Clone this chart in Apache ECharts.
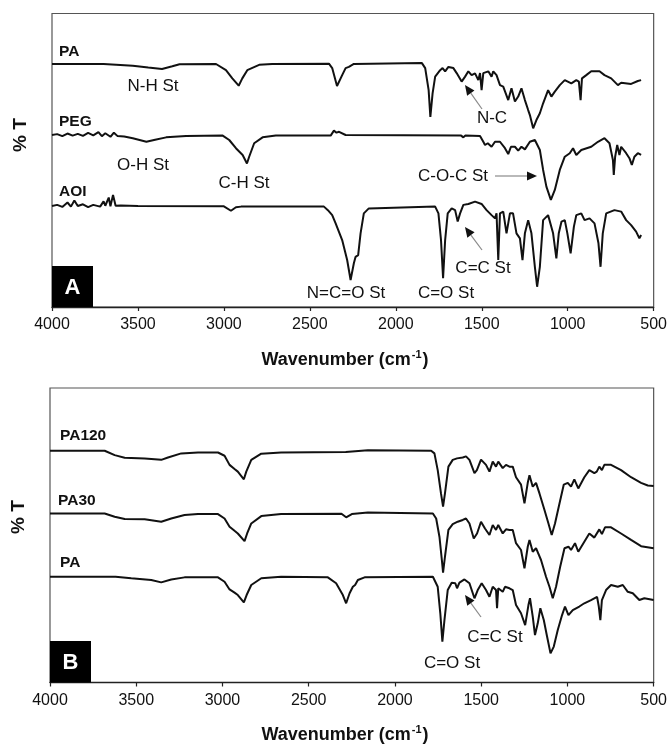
<!DOCTYPE html>
<html>
<head>
<meta charset="utf-8">
<script src="https://cdn.jsdelivr.net/npm/echarts@6/dist/echarts.min.js"></script>
<style>html,body{margin:0;padding:0;background:#fff}#c{width:670px;height:747px}</style>
</head>
<body>
<div id="c"></div>
<script>
// ---------- DATA (wavenumber cm-1, %T arbitrary offset units) ----------
const xTicks = [4000, 3500, 3000, 2500, 2000, 1500, 1000, 500];

// Panel A
const A_PA = [[4000,82.8],[3700,82.8],[3530,82.2],[3440,81.6],[3360,81.1],[3300,82.0],[3258,82.7],[3046,82.8],[2988,80.7],[2951,77.9],[2914,75.4],[2893,77.9],[2864,80.7],[2795,82.5],[2719,82.8],[2389,82.9],[2370,81.4],[2342,75.3],[2335,74.8],[2312,79.0],[2292,81.4],[2273,81.8],[2244,82.8],[1848,83.1],[1829,81.4],[1809,73.9],[1799,64.8],[1786,72.8],[1771,78.5],[1742,80.7],[1728,81.4],[1713,80.3],[1694,81.8],[1665,81.4],[1646,79.7],[1617,76.8],[1597,78.5],[1578,80.3],[1559,79.0],[1539,79.6],[1520,77.3],[1510,79.7],[1501,73.9],[1491,79.7],[1462,80.3],[1443,78.5],[1433,80.3],[1414,79.0],[1394,75.6],[1375,75.1],[1346,70.5],[1327,74.5],[1307,70.0],[1288,71.7],[1269,74.5],[1249,70.5],[1230,67.1],[1220,65.4],[1201,60.9],[1182,63.7],[1162,66.0],[1143,69.4],[1114,73.9],[1095,71.7],[1075,73.4],[1046,75.6],[1017,77.3],[979,76.2],[950,77.3],[935,76.8],[925,70.5],[917,77.9],[892,79.0],[863,80.3],[815,80.3],[786,79.0],[747,77.9],[708,75.6],[689,76.4],[631,76.0],[592,77.0],[573,77.3]];

const A_PEG = [[4000,58.6],[3970,58.9],[3940,58.2],[3910,59.1],[3880,58.4],[3850,59.0],[3820,58.3],[3790,59.3],[3760,58.5],[3730,59.6],[3710,58.2],[3690,59.2],[3660,58.0],[3640,59.4],[3620,58.3],[3580,58.1],[3530,57.5],[3451,56.3],[3400,57.0],[3336,57.8],[3220,58.3],[3007,58.4],[2969,56.9],[2930,54.1],[2891,51.8],[2866,48.9],[2853,51.2],[2824,55.8],[2775,57.8],[2698,58.4],[2379,58.4],[2360,60.1],[2345,59.4],[2330,59.7],[2292,58.6],[1620,58.4],[1607,57.8],[1595,58.4],[1510,58.3],[1491,56.3],[1481,55.2],[1465,55.8],[1443,54.6],[1423,56.3],[1394,56.3],[1365,54.1],[1346,52.1],[1330,54.6],[1307,54.6],[1288,53.3],[1269,54.6],[1249,53.7],[1220,56.3],[1191,56.9],[1162,53.5],[1143,46.7],[1124,41.0],[1098,36.5],[1075,39.9],[1046,46.7],[1017,51.2],[988,52.4],[969,54.1],[950,51.8],[921,53.5],[863,54.6],[824,56.3],[786,57.5],[757,55.8],[737,50.1],[732,45.0],[724,51.2],[712,55.2],[699,51.8],[689,54.6],[660,52.4],[641,50.7],[627,48.4],[612,51.2],[592,52.4],[573,51.8]];

const A_AOI = [[4000,34.4],[3970,34.8],[3940,34.1],[3910,35.6],[3890,34.2],[3870,36.3],[3850,34.4],[3820,35.0],[3790,34.0],[3760,34.8],[3720,34.2],[3700,36.0],[3690,34.5],[3670,37.3],[3660,34.3],[3645,38.2],[3630,34.5],[3600,34.6],[3500,34.4],[3000,34.3],[2959,32.8],[2930,34.0],[2900,34.2],[2418,34.2],[2395,33.0],[2370,31.3],[2350,28.5],[2312,22.8],[2283,16.0],[2263,9.2],[2244,14.9],[2234,17.1],[2219,17.7],[2205,25.1],[2186,31.9],[2157,33.6],[1771,34.2],[1752,31.9],[1737,22.8],[1725,9.8],[1713,22.8],[1698,31.9],[1675,33.6],[1655,33.0],[1640,29.1],[1626,31.9],[1607,34.8],[1578,35.1],[1539,35.9],[1501,35.1],[1472,33.0],[1443,31.3],[1423,30.2],[1414,31.9],[1404,16.0],[1394,31.9],[1375,32.5],[1356,25.1],[1336,31.9],[1318,31.9],[1298,25.1],[1278,23.4],[1263,16.0],[1249,25.1],[1230,29.6],[1211,25.1],[1191,13.7],[1178,6.9],[1162,13.7],[1143,29.6],[1114,31.3],[1085,25.1],[1066,16.6],[1052,25.1],[1036,29.1],[1017,29.6],[1002,25.1],[983,18.3],[964,27.4],[950,31.3],[921,31.9],[902,29.6],[873,30.2],[844,28.5],[821,21.7],[809,13.7],[796,25.1],[776,31.9],[728,33.0],[689,32.5],[660,29.6],[631,27.9],[602,25.7],[583,23.4],[573,24.5]];

// Panel B
const B_PA120 = [[4000,78.7],[3683,78.7],[3625,77.2],[3567,76.3],[3451,76.1],[3355,75.6],[3316,76.4],[3239,77.8],[3142,78.1],[3026,78.1],[2988,77.0],[2959,73.9],[2930,72.5],[2911,71.6],[2876,69.0],[2862,71.6],[2833,75.6],[2775,77.7],[2660,78.1],[2285,78.3],[2157,78.9],[1790,78.7],[1771,77.8],[1752,72.1],[1733,64.2],[1721,59.7],[1710,64.2],[1690,73.3],[1665,75.6],[1640,76.1],[1607,76.4],[1588,76.8],[1568,75.6],[1539,71.1],[1525,72.1],[1501,75.7],[1472,73.9],[1452,71.6],[1433,75.0],[1414,73.3],[1401,75.0],[1375,72.8],[1356,73.9],[1336,73.3],[1317,73.3],[1298,69.7],[1269,67.2],[1249,60.8],[1230,67.8],[1220,70.4],[1201,66.5],[1182,67.8],[1162,64.2],[1133,58.6],[1110,54.0],[1091,50.1],[1072,54.0],[1046,60.8],[1021,67.2],[998,67.8],[979,66.5],[960,69.0],[937,65.9],[902,69.7],[873,72.1],[844,71.1],[830,71.6],[815,73.3],[800,72.1],[786,73.9],[747,73.9],[689,72.1],[631,69.7],[573,67.8],[534,66.9],[500,66.7]];

const B_PA30 = [[4000,57.4],[3683,57.4],[3625,56.3],[3567,55.5],[3451,55.4],[3355,54.6],[3297,55.7],[3220,56.9],[3142,57.2],[3026,57.2],[2988,55.7],[2959,52.9],[2930,51.5],[2911,50.6],[2872,48.0],[2857,50.6],[2833,54.0],[2775,56.5],[2660,57.2],[2310,57.3],[2283,56.1],[2250,57.2],[2157,57.7],[1780,57.4],[1761,55.7],[1742,49.5],[1728,41.6],[1721,37.3],[1710,42.7],[1690,51.8],[1665,53.8],[1636,54.6],[1607,55.2],[1588,55.7],[1568,54.0],[1543,48.9],[1524,50.6],[1501,54.6],[1478,52.3],[1452,50.1],[1433,53.5],[1414,51.8],[1401,53.5],[1375,50.6],[1356,52.0],[1336,51.8],[1317,51.8],[1298,47.3],[1269,45.0],[1249,38.8],[1230,46.1],[1220,48.4],[1201,44.4],[1182,45.6],[1153,41.6],[1124,35.9],[1104,32.5],[1085,28.6],[1066,32.5],[1042,39.3],[1017,45.6],[994,46.1],[979,45.0],[956,47.3],[937,44.4],[902,47.8],[873,50.6],[844,49.2],[815,52.0],[800,50.4],[782,52.7],[747,52.7],[689,50.6],[631,48.4],[573,46.3],[500,45.6]];

const B_PA = [[4000,35.9],[3620,35.9],[3529,35.4],[3413,34.8],[3355,34.0],[3297,35.0],[3220,35.7],[3026,35.7],[2988,34.2],[2959,31.6],[2930,30.5],[2911,29.7],[2876,27.2],[2860,29.7],[2833,33.1],[2775,35.4],[2660,35.9],[2389,35.7],[2341,33.7],[2302,29.7],[2283,26.9],[2263,30.3],[2244,32.5],[2231,33.1],[2215,34.8],[2176,35.7],[1780,35.9],[1752,32.5],[1737,23.5],[1725,13.9],[1713,21.2],[1694,31.4],[1671,33.9],[1650,33.7],[1640,32.0],[1626,33.9],[1597,35.0],[1568,33.7],[1539,28.6],[1520,31.4],[1497,33.7],[1472,31.4],[1452,29.1],[1433,32.5],[1414,31.4],[1408,25.2],[1401,32.0],[1375,30.8],[1362,32.5],[1336,32.0],[1317,31.4],[1298,26.3],[1269,23.5],[1245,19.5],[1226,26.3],[1217,28.6],[1201,22.4],[1188,16.1],[1172,20.1],[1157,25.2],[1137,21.2],[1118,15.6],[1098,9.9],[1079,12.2],[1056,17.8],[1031,22.9],[1014,25.8],[994,22.9],[969,24.6],[931,25.8],[902,26.9],[863,28.0],[828,29.1],[818,25.8],[809,21.2],[800,28.0],[776,31.4],[747,33.1],[708,32.5],[679,33.1],[650,30.8],[621,30.3],[583,28.0],[554,28.6],[500,28.0]];

// ---------- CHART ----------
const FONT = '"Liberation Sans", Arial, Helvetica, sans-serif';
const INK = '#111';
const chart = echarts.init(document.getElementById('c'), null, {renderer: 'canvas'});

function xAxisFor(gi) {
  return {
    gridIndex: gi, type: 'value', min: 500, max: 4000, interval: 500, inverse: true,
    axisLine: {show: true, onZero: false, lineStyle: {color: '#222', width: 1.3}},
    axisTick: {show: true, length: 4, inside: false, lineStyle: {color: '#222', width: 1.2}},
    axisLabel: {fontSize: 16, color: INK, margin: 10, fontFamily: FONT, showMinLabel: true, showMaxLabel: true,
                formatter: function (v) { return String(Math.round(v)); }},
    splitLine: {show: false}
  };
}
function yAxisFor(gi) {
  return {gridIndex: gi, type: 'value', min: 0, max: 100, show: false, splitLine: {show: false}};
}
function line(data, gi) {
  return {
    type: 'line', xAxisIndex: gi, yAxisIndex: gi, data: data, showSymbol: false, symbol: 'none',
    silent: true, lineStyle: {color: INK, width: 2}, z: 3
  };
}

function txt(x, y, s, size, bold, extra) {
  return Object.assign({
    type: 'text', x: x, y: y, z: 10, silent: true,
    style: {text: s, fontSize: size, fontWeight: bold ? 'bold' : 'normal', fontFamily: FONT,
            fill: INK, align: 'center', verticalAlign: 'middle'}
  }, extra || {});
}
function leftTxt(x, y, s, size, bold) {
  const t = txt(x, y, s, size, bold);
  t.style.align = 'left';
  return t;
}
function arrow(x1, y1, x2, y2) {
  const dx = x2 - x1, dy = y2 - y1, L = Math.hypot(dx, dy);
  const ux = dx / L, uy = dy / L, hl = 10, hw = 4.5;
  const bx = x2 - ux * hl, by = y2 - uy * hl;
  return [
    {type: 'line', z: 10, silent: true, shape: {x1: x1, y1: y1, x2: bx, y2: by}, style: {stroke: '#8a8a8a', lineWidth: 1.2}},
    {type: 'polygon', z: 10, silent: true,
     shape: {points: [[x2, y2], [bx - uy * hw, by + ux * hw], [bx + uy * hw, by - ux * hw]]},
     style: {fill: '#111'}}
  ];
}
function panelTag(x, y, w, h, s) {
  return [
    {type: 'rect', z: 9, silent: true, shape: {x: x, y: y, width: w, height: h}, style: {fill: '#000'}},
    txt(x + w / 2, y + h / 2 + 1, s, 22, true, {z: 11, style: {text: s, fontSize: 22, fontWeight: 'bold', fontFamily: FONT, fill: '#fff', align: 'center', verticalAlign: 'middle'}})
  ];
}
function xTitle(cx, cy) {
  return {
    type: 'text', x: cx, y: cy, z: 10, silent: true,
    style: {
      text: '{a|Wavenumber (cm}{s|-1}{a|)}', align: 'center', verticalAlign: 'middle',
      rich: {
        a: {fontSize: 18, fontWeight: 'bold', fontFamily: FONT, fill: INK, color: INK},
        s: {fontSize: 11, fontWeight: 'bold', fontFamily: FONT, fill: INK, color: INK, padding: [0, 1, 10, 1]}
      }
    }
  };
}

const graphics = [].concat(
  [txt(21, 135, '% T', 19, true, {rotation: Math.PI / 2}),
   txt(19, 517, '% T', 19, true, {rotation: Math.PI / 2})],
  [xTitle(345, 360), xTitle(345, 735)],
  [leftTxt(59, 52, 'PA', 15.5, true), leftTxt(59, 122, 'PEG', 15.5, true), leftTxt(59, 192, 'AOI', 15.5, true)],
  [leftTxt(60, 436, 'PA120', 15.5, true), leftTxt(58, 501, 'PA30', 15.5, true), leftTxt(60, 563, 'PA', 15.5, true)],
  [txt(153, 86, 'N-H St', 17), txt(143, 165, 'O-H St', 17), txt(244, 183, 'C-H St', 17),
   txt(346, 293, 'N=C=O St', 17), txt(446, 293, 'C=O St', 17), txt(483, 268, 'C=C St', 17),
   txt(492, 118, 'N-C', 17), txt(453, 176, 'C-O-C St', 17)],
  arrow(482, 109, 465, 85),
  arrow(482, 250, 465, 227),
  arrow(495, 176, 537, 176),
  [txt(495, 637, 'C=C St', 17), txt(452, 663, 'C=O St', 17)],
  arrow(481, 617, 465, 595),
  panelTag(52, 266, 41, 41, 'A'),
  panelTag(50, 641, 41, 41.5, 'B')
);

const option = {
  animation: false,
  backgroundColor: '#fff',
  grid: [
    {left: 52, top: 13.5, width: 604, height: 293.5, show: true, borderColor: '#555', borderWidth: 1.2, backgroundColor: 'transparent'},
    {left: 50, top: 388, width: 606, height: 294.5, show: true, borderColor: '#555', borderWidth: 1.2, backgroundColor: 'transparent'}
  ],
  xAxis: [xAxisFor(0), xAxisFor(1)],
  yAxis: [yAxisFor(0), yAxisFor(1)],
  series: [
    line(A_PA, 0), line(A_PEG, 0), line(A_AOI, 0),
    line(B_PA120, 1), line(B_PA30, 1), line(B_PA, 1)
  ],
  graphic: {elements: graphics}
};
chart.setOption(option);
</script>
</body>
</html>
